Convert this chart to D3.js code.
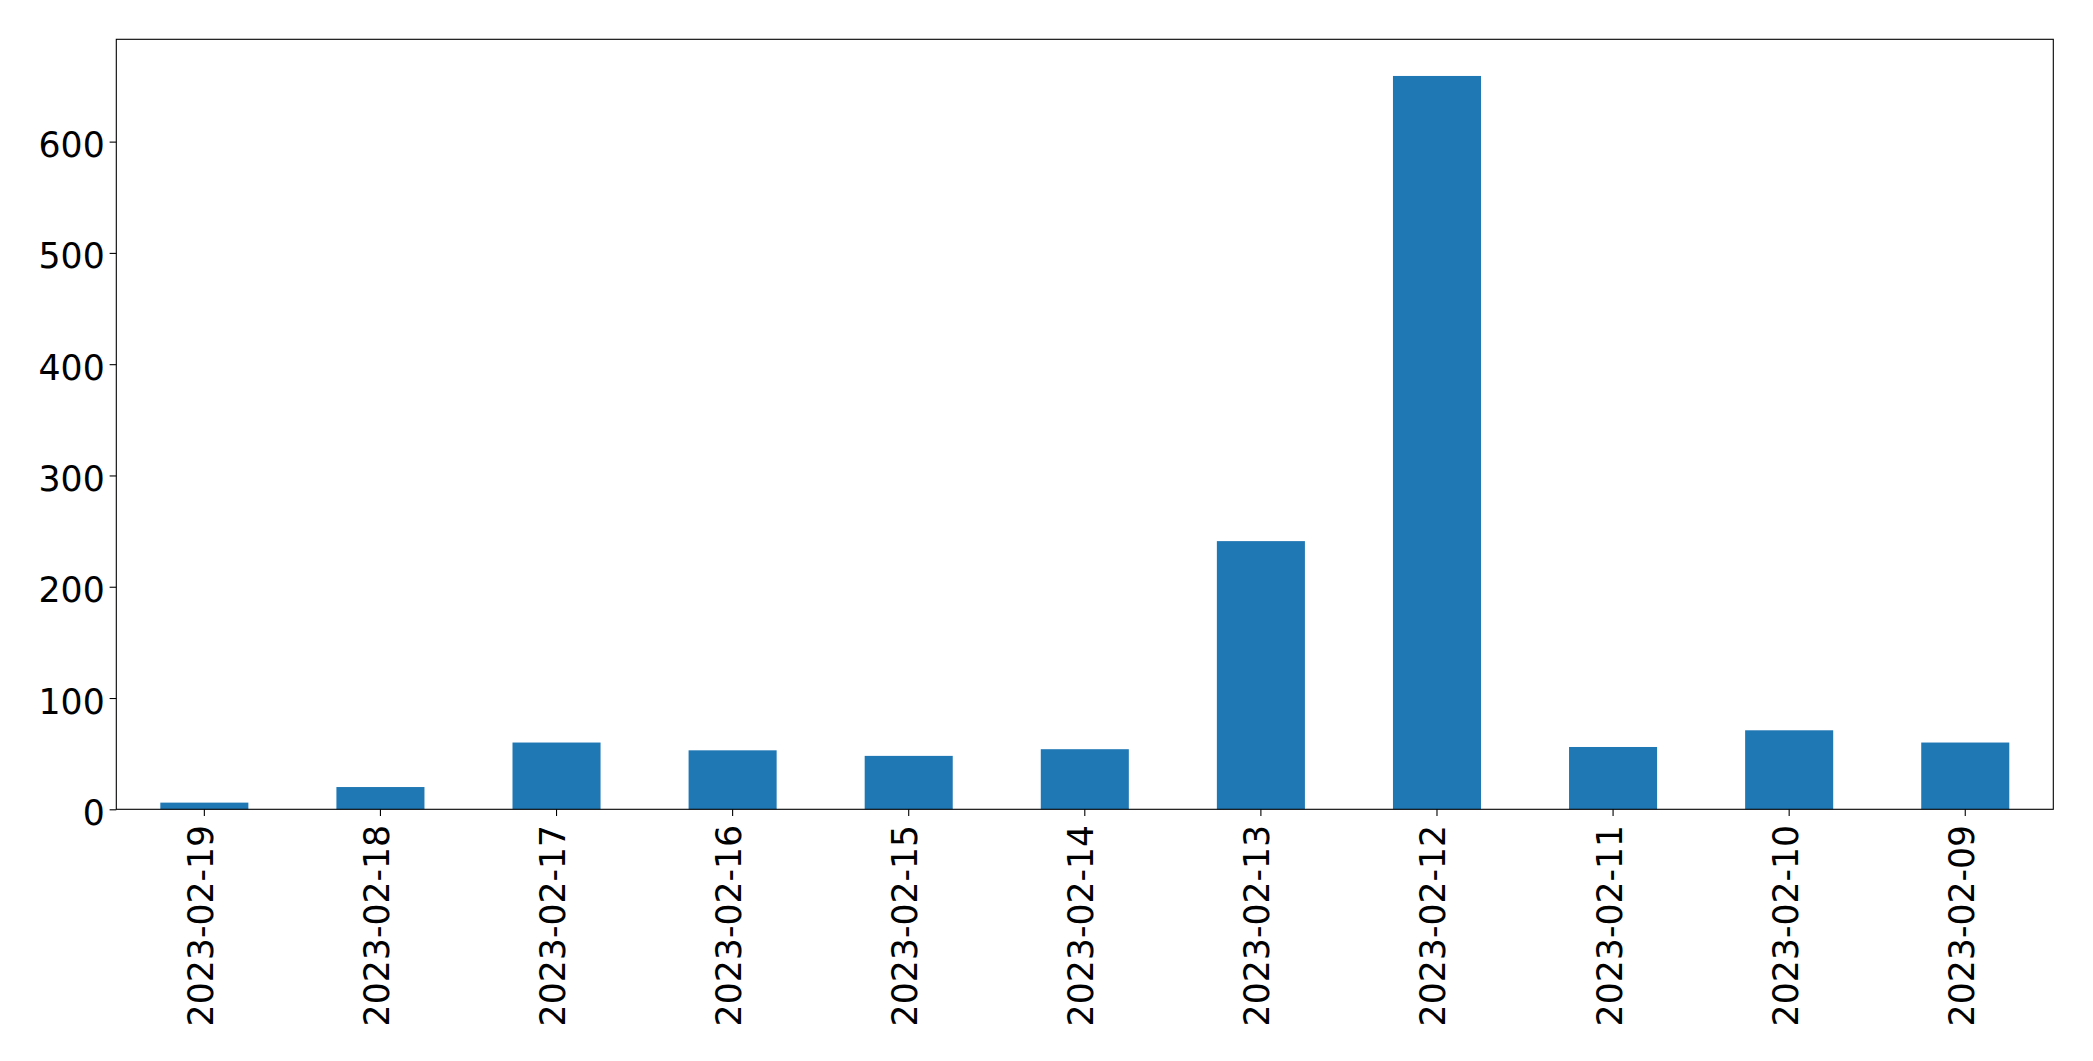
<!DOCTYPE html>
<html>
<head>
<meta charset="utf-8">
<script src="https://cdn.jsdelivr.net/npm/d3@7"></script>
<style>
  html, body { margin: 0; padding: 0; background: #fff; }
  svg { display: block; }
  text { font-family: "DejaVu Sans", sans-serif; fill: #000; }
</style>
</head>
<body>
<svg id="chart" width="2093" height="1061"></svg>
<script>
const categories = ["2023-02-19","2023-02-18","2023-02-17","2023-02-16","2023-02-15","2023-02-14","2023-02-13","2023-02-12","2023-02-11","2023-02-10","2023-02-09"];
const values = [6, 20, 60, 53, 48, 54, 241, 659, 56, 71, 60];
const yTicks = [0, 100, 200, 300, 400, 500, 600];

(function () {
const plotLeft = 116.3, plotRight = 2053.3, plotTop = 39.3, plotBottom = 809.3;
const fontSize = 34.7;

const svg = d3.select("#chart");

const x = d3.scaleBand()
  .domain(categories)
  .range([plotLeft, plotRight])
  .paddingInner(0.5)
  .paddingOuter(0.25);

const y = d3.scaleLinear()
  .domain([0, d3.max(values) * 1.05])
  .range([plotBottom, plotTop]);

// bars
svg.append("g")
  .selectAll("rect")
  .data(categories)
  .join("rect")
  .attr("x", d => x(d))
  .attr("width", x.bandwidth())
  .attr("y", (d, i) => y(values[i]))
  .attr("height", (d, i) => y(0) - y(values[i]))
  .attr("fill", "#1f77b4");

// frame
svg.append("rect")
  .attr("x", plotLeft).attr("y", plotTop)
  .attr("width", plotRight - plotLeft).attr("height", plotBottom - plotTop)
  .attr("fill", "none").attr("stroke", "#000").attr("stroke-width", 1.1);

// y axis
const yAxis = svg.append("g")
  .attr("transform", `translate(${plotLeft},0)`)
  .call(d3.axisLeft(y).tickValues(yTicks).tickSize(6.7).tickPadding(0).tickFormat(d3.format("d")));
yAxis.select(".domain").remove();
yAxis.selectAll(".tick line").attr("stroke", "#000").attr("stroke-width", 1.1);
yAxis.selectAll(".tick text")
  .attr("x", -11.6)
  .attr("dy", null)
  .attr("y", 15)
  .style("font-size", fontSize + "px")
  .style("font-family", "'DejaVu Sans', sans-serif")
  .attr("fill", "#000");

// x axis
const xAxis = svg.append("g")
  .attr("transform", `translate(0,${plotBottom})`)
  .call(d3.axisBottom(x).tickSize(6.7).tickPadding(0));
xAxis.select(".domain").remove();
xAxis.selectAll(".tick line").attr("stroke", "#000").attr("stroke-width", 1.1);
xAxis.selectAll(".tick text")
  .attr("y", null)
  .attr("dy", null)
  .attr("x", null)
  .attr("text-anchor", "end")
  .attr("transform", "translate(8.5,15.5) rotate(-90)")
  .style("font-size", fontSize + "px")
  .style("font-family", "'DejaVu Sans', sans-serif")
  .attr("fill", "#000");
})();
</script>
</body>
</html>
